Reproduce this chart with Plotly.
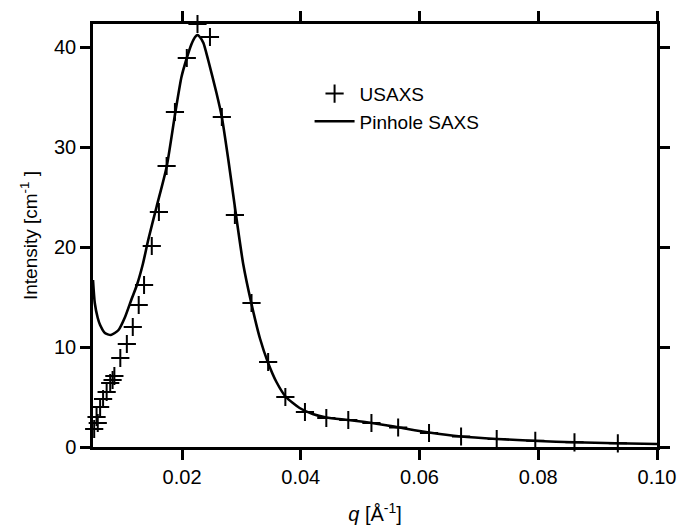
import plotly.graph_objects as go

# USAXS data (q in 1/Å, intensity in 1/cm)
usaxs_q = [0.0052, 0.0056, 0.0058, 0.0062, 0.0067, 0.0073, 0.0079, 0.0083, 0.0086,
           0.0096, 0.0107, 0.0117, 0.0127, 0.0136, 0.0149, 0.0161, 0.0174, 0.0188,
           0.0208, 0.0226, 0.0247, 0.0267, 0.0289, 0.0317, 0.0345, 0.0374, 0.0407,
           0.0443, 0.0480, 0.0519, 0.0564, 0.0616, 0.0670, 0.0730, 0.0795, 0.0861, 0.0934]
usaxs_i = [1.8, 3.0, 2.4, 4.0, 4.8, 5.5, 6.4, 6.7, 7.1,
           8.9, 10.3, 12.0, 14.2, 16.2, 20.1, 23.5, 28.1, 33.5,
           38.9, 42.3, 41.0, 33.0, 23.2, 14.4, 8.5, 5.0, 3.5,
           2.9, 2.7, 2.4, 1.95, 1.4, 1.05, 0.8, 0.62, 0.47, 0.37]

# Pinhole SAXS curve
saxs_q = [0.0050, 0.0053, 0.0058, 0.0062, 0.0070, 0.0080, 0.0093, 0.0104, 0.0115,
          0.0124, 0.0134, 0.0143, 0.0157, 0.0174, 0.0188, 0.0199, 0.0208, 0.0216,
          0.0222, 0.0226, 0.0230, 0.0236, 0.0244, 0.0258, 0.0267, 0.0278, 0.0289,
          0.0303, 0.0317, 0.0331, 0.0345, 0.0359, 0.0375, 0.0398, 0.0420, 0.0443,
          0.0480, 0.0520, 0.0564, 0.0616, 0.0670, 0.0730, 0.0800, 0.0860, 0.0930, 0.1000]
saxs_i = [16.7, 14.4, 12.9, 12.2, 11.4, 11.2, 11.7, 13.0, 14.8,
          16.2, 18.3, 20.7, 24.0, 28.0, 33.2, 37.0, 38.9, 40.3,
          41.0, 41.2, 41.0, 40.4, 38.7, 35.4, 33.0, 28.7, 24.0,
          18.3, 14.3, 10.9, 8.4, 6.5, 5.0, 3.9, 3.3, 2.95,
          2.7, 2.4, 1.97, 1.45, 1.05, 0.8, 0.6, 0.47, 0.38, 0.3]

x_ticks = [0.02, 0.04, 0.06, 0.08, 0.10]
x_tick_labels = ["0.02", "0.04", "0.06", "0.08", "0.10"]
y_ticks = [0, 10, 20, 30, 40]

font = "Liberation Sans, Arial, sans-serif"

fig = go.Figure()
fig.add_trace(go.Scatter(
    x=usaxs_q, y=usaxs_i, mode="markers", name="USAXS",
    marker=dict(symbol="cross-thin", size=13, color="black",
                line=dict(color="black", width=2)),
    cliponaxis=False,
))
fig.add_trace(go.Scatter(
    x=saxs_q, y=saxs_i, mode="lines", name="Pinhole SAXS",
    line=dict(color="black", width=2.6, shape="spline", smoothing=0.6),
))

axis_common = dict(
    showline=True, linecolor="black", linewidth=2.5, mirror="ticks",
    ticks="outside", ticklen=10, tickwidth=2.5, tickcolor="black",
    showgrid=False, zeroline=False, automargin=False,
    tickfont=dict(family=font, size=20, color="black"),
)

fig.update_layout(
    width=682, height=527,
    margin=dict(l=93, r=25, t=24, b=80),
    paper_bgcolor="white", plot_bgcolor="white",
    font=dict(family=font, size=18, color="black"),
    xaxis=dict(range=[0.005, 0.1], tickvals=x_ticks, ticktext=x_tick_labels,
               title=dict(text="<i>q</i> [Å<sup>-1</sup>]", font=dict(family=font, size=20),
                          standoff=21),
               **axis_common),
    yaxis=dict(range=[0, 42.3], tickvals=y_ticks,
               title=dict(text="Intensity [cm<sup>-1</sup> ]", font=dict(family=font, size=19),
                          standoff=12),
               **axis_common),
    showlegend=True,
    legend=dict(x=0.384, y=0.88, xanchor="left", yanchor="top",
                bgcolor="rgba(0,0,0,0)", font=dict(family=font, size=19),
                itemwidth=40, tracegroupgap=0),
)

fig.write_html(
    "out.html",
    config={"displayModeBar": False},
    post_script="document.body.style.margin='0';document.body.style.overflow='hidden';",
)
